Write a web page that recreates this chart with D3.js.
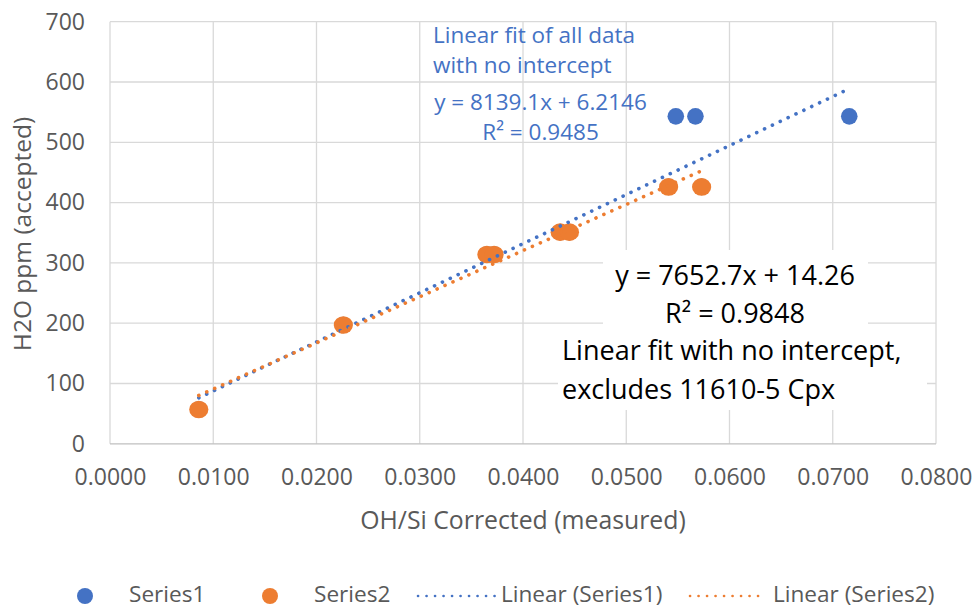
<!DOCTYPE html>
<html>
<head>
<meta charset="utf-8">
<script src="https://cdn.jsdelivr.net/npm/d3@7"></script>
<style>
  body { margin: 0; background: #fff; }
  text { font-family: "Open Sans", Lato, sans-serif; }
</style>
</head>
<body>
<div id="chart"></div>
<script>
var w = 977,
  h = 610;

// series 1: all data, series 2: excludes 11610-5 Cpx
var series1X = [0.0086, 0.0226, 0.0365, 0.0372, 0.0436, 0.0445, 0.0541, 0.0573, 0.0548, 0.0567, 0.0716];
var series1Y = [57, 197, 314, 314, 351, 351, 426, 426, 543, 543, 543];
var series2X = [0.0086, 0.0226, 0.0365, 0.0372, 0.0436, 0.0445, 0.0541, 0.0573];
var series2Y = [57, 197, 314, 314, 351, 351, 426, 426];
var fit1 = { slope: 8139.1, intercept: 6.2146, r2: 0.9485 };
var fit2 = { slope: 7652.7, intercept: 14.26, r2: 0.9848 };
var xTicks = [0, 0.01, 0.02, 0.03, 0.04, 0.05, 0.06, 0.07, 0.08];
var yTicks = [0, 100, 200, 300, 400, 500, 600, 700];
var legendItems = ["Series1", "Series2", "Linear (Series1)", "Linear (Series2)"];

var blue = "#4472c4",
  orange = "#ed7d31",
  grey = "#595959";

var svg = d3
  .select("#chart")
  .append("svg")
  .attr("width", w)
  .attr("height", h);

var x = d3.scaleLinear().domain([0, 0.08]).range([110, 936]);
var y = d3.scaleLinear().domain([0, 700]).range([443.8, 21.7]);

// grid
svg
  .append("g")
  .selectAll("line")
  .data(xTicks)
  .enter()
  .append("line")
  .attr("x1", (d) => x(d))
  .attr("x2", (d) => x(d))
  .attr("y1", y(0))
  .attr("y2", y(700))
  .attr("stroke", "#d9d9d9")
  .attr("stroke-width", 1.3);

svg
  .append("g")
  .selectAll("line")
  .data(yTicks)
  .enter()
  .append("line")
  .attr("x1", x(0))
  .attr("x2", x(0.08))
  .attr("y1", (d) => y(d))
  .attr("y2", (d) => y(d))
  .attr("stroke", (d) => (d === 0 ? "#bfbfbf" : "#d9d9d9"))
  .attr("stroke-width", 1.3);

// tick labels
svg
  .append("g")
  .attr("transform", `translate(${x(0)},0)`)
  .call(d3.axisLeft(y).tickValues(yTicks).tickSize(0).tickPadding(25))
  .call((g) => g.select(".domain").remove())
  .selectAll("text")
  .attr("fill", grey)
  .style("font-size", "23px")
  .style("font-family", "Open Sans");

svg
  .append("g")
  .attr("transform", `translate(0,${y(0)})`)
  .call(
    d3
      .axisBottom(x)
      .tickValues(xTicks)
      .tickSize(0)
      .tickPadding(25)
      .tickFormat(d3.format(".4f"))
  )
  .call((g) => g.select(".domain").remove())
  .selectAll("text")
  .attr("fill", grey)
  .style("font-size", "23px")
  .style("font-family", "Open Sans");

// axis titles
svg
  .append("text")
  .attr("x", 523)
  .attr("y", 529)
  .attr("text-anchor", "middle")
  .attr("fill", grey)
  .style("font-size", "24.8px")
  .text("OH/Si Corrected (measured)");

svg
  .append("text")
  .attr("transform", "translate(31,234)rotate(-90)")
  .attr("text-anchor", "middle")
  .attr("fill", grey)
  .style("font-size", "24.5px")
  .text("H2O ppm (accepted)");

// white boxes behind the black annotation
svg.append("rect").attr("x", 603).attr("y", 250).attr("width", 265).attr("height", 85).attr("fill", "#fff");
svg.append("rect").attr("x", 558).attr("y", 335).attr("width", 369).attr("height", 75).attr("fill", "#fff");

// points
svg
  .append("g")
  .selectAll("circle")
  .data(d3.zip(series1X, series1Y))
  .enter()
  .append("circle")
  .attr("cx", (d) => x(d[0]))
  .attr("cy", (d) => y(d[1]))
  .attr("r", 8.3)
  .attr("fill", blue);

svg
  .append("g")
  .selectAll("ellipse")
  .data(d3.zip(series2X, series2Y))
  .enter()
  .append("ellipse")
  .attr("cx", (d) => x(d[0]))
  .attr("cy", (d) => y(d[1]))
  .attr("rx", 9.6)
  .attr("ry", 8.8)
  .attr("fill", orange);

// trendlines
var trend = (xs, fit, color) => {
  var ext = d3.extent(xs);
  svg
    .append("line")
    .attr("x1", x(ext[0]))
    .attr("y1", y(fit.slope * ext[0] + fit.intercept))
    .attr("x2", x(ext[1]))
    .attr("y2", y(fit.slope * ext[1] + fit.intercept))
    .attr("stroke", color)
    .attr("stroke-width", 3.6)
    .attr("stroke-linecap", "round")
    .attr("stroke-dasharray", "0.1 8.6");
};
trend(series1X, fit1, blue);
trend(series2X, fit2, orange);

// blue annotation
var blueNote = svg.append("g").attr("fill", blue).style("font-size", "22.5px");
blueNote.append("text").attr("x", 433).attr("y", 43).text("Linear fit of all data");
blueNote.append("text").attr("x", 433).attr("y", 73).text("with no intercept");
blueNote
  .append("text")
  .attr("x", 540.5)
  .attr("y", 110)
  .attr("text-anchor", "middle")
  .text(`y = ${fit1.slope}x + ${fit1.intercept}`);
blueNote
  .append("text")
  .attr("x", 540.5)
  .attr("y", 140)
  .attr("text-anchor", "middle")
  .text(`R² = ${fit1.r2}`);

// black annotation
var blackNote = svg.append("g").attr("fill", "#000").style("font-size", "27px");
blackNote
  .append("text")
  .attr("x", 735)
  .attr("y", 285)
  .attr("text-anchor", "middle")
  .text(`y = ${fit2.slope}x + ${fit2.intercept}`);
blackNote
  .append("text")
  .attr("x", 735)
  .attr("y", 323)
  .attr("text-anchor", "middle")
  .text(`R² = ${fit2.r2}`);
blackNote.append("text").attr("x", 562).attr("y", 360).text("Linear fit with no intercept,");
blackNote.append("text").attr("x", 562).attr("y", 399).text("excludes 11610-5 Cpx");

// legend
var legend = svg.append("g").style("font-size", "22.6px");
var ly = 596;
legend.append("circle").attr("cx", 85).attr("cy", ly).attr("r", 8).attr("fill", blue);
legend.append("circle").attr("cx", 270).attr("cy", ly).attr("r", 8).attr("fill", orange);
[
  [418, 495, blue],
  [690, 763, orange],
].forEach((d) => {
  legend
    .append("line")
    .attr("x1", d[0])
    .attr("x2", d[1])
    .attr("y1", ly)
    .attr("y2", ly)
    .attr("stroke", d[2])
    .attr("stroke-width", 2.6)
    .attr("stroke-linecap", "round")
    .attr("stroke-dasharray", "0.1 8.4");
});
legend
  .selectAll("text")
  .data(legendItems)
  .enter()
  .append("text")
  .attr("x", (d, i) => [129, 314, 501, 773][i])
  .attr("y", ly + 6)
  .attr("fill", grey)
  .text((d) => d);
</script>
</body>
</html>
